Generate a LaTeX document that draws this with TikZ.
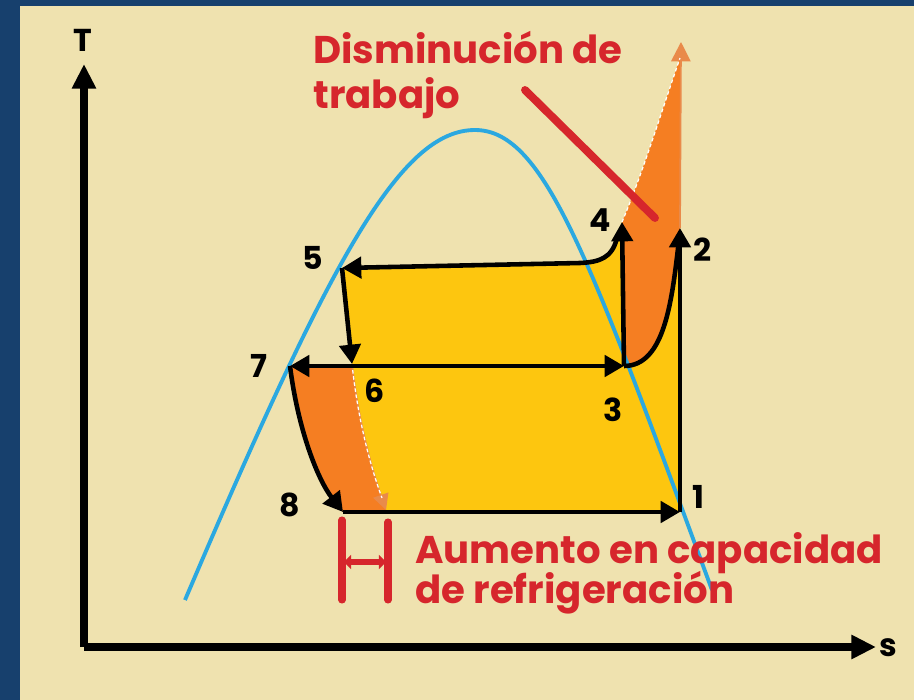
\documentclass[tikz,border=0pt]{standalone}
\usepackage{fontspec}
\setmainfont{Poppins}
\usetikzlibrary{arrows.meta}
\definecolor{frameblue}{HTML}{17406D}
\definecolor{paper}{HTML}{EFE2AF}
\definecolor{hotyel}{HTML}{FDC60F}
\definecolor{hotora}{HTML}{F57E22}
\definecolor{tipora}{HTML}{E98A4A}
\definecolor{domeblue}{HTML}{2BA8E0}
\definecolor{notered}{HTML}{D6262C}
\begin{document}
\begin{tikzpicture}[x=0.02cm,y=-0.02cm,>={Triangle[length=11pt,width=12pt]},
  flow/.style={line width=2.6pt,->},
  axis/.style={line width=4pt,-{Triangle[length=14pt,width=13pt]}},
  num/.style={font=\bfseries\fontsize{18}{18}\selectfont,inner sep=0pt},
  note/.style={text=notered,font=\bfseries\fontsize{22}{22}\selectfont,inner sep=0pt,anchor=base west}]
\fill[frameblue] (0,0) rectangle (914,700);
\fill[paper] (20,6) rectangle (914,700);
\useasboundingbox (0,0) rectangle (914,700);
\coordinate (o) at (84,647);\coordinate (ty) at (84,64);\coordinate (sx) at (876,647);
\coordinate (p1) at (680,512);\coordinate (p2) at (680,228);
\coordinate (p3) at (624,366);\coordinate (p4) at (622,222);
\coordinate (p5) at (342,268);\coordinate (p6) at (352,364);
\coordinate (p7) at (290,366);\coordinate (p8) at (343,512);
\coordinate (k4) at (617,238);\coordinate (k2) at (679,240);
\coordinate (ptop) at (681,42);\coordinate (pbot) at (386,510);
\fill[hotyel] (p5) -- (580,263) .. controls (605,262) and (617,250) .. (p4) -- (p3) -- (p6) -- cycle;
\fill[hotyel] (p6) -- (p3) .. controls (665,366) and (672,300) .. (p2) -- (p1) -- (p8) -- cycle;
\fill[hotora] (p7) .. controls (298,430) and (318,480) .. (p8) -- (pbot) .. controls (372,470) and (358,420) .. (p6) -- cycle;
\fill[hotora] (p4) -- (p3) .. controls (665,366) and (672,300) .. (p2) -- (680,58) .. controls (662,110) and (642,175) .. (p4) -- cycle;
\draw[tipora,line width=1pt,-{Triangle[length=11pt,width=11pt]}] (p2) -- (ptop);
\draw[white,line width=0.7pt,dash pattern=on 2pt off 1.5pt] (p4) .. controls (642,175) and (662,110) .. (680,58);
\draw[tipora,line width=1pt,-{Triangle[length=9pt,width=9pt]}] (p6) .. controls (358,420) and (372,470) .. (pbot);
\draw[white,line width=0.7pt,dash pattern=on 2pt off 1.5pt] (p6) .. controls (358,420) and (370,465) .. (382,498);
\draw[domeblue,line width=2.2pt] (185,600) .. controls (330,260) and (400,130) .. (475,130) .. controls (545,130) and (590,260) .. (712,590);
\draw[axis] (o) -- (ty);
\draw[axis] (o) -- (sx);
\draw[flow] (p1) -- (p2);
\draw[line width=2.6pt] (p3) .. controls (665,366) and (672,300) .. (k2);
\draw[flow] (p3) -- (p4);
\draw[flow] (k4) .. controls (612,258) and (600,262) .. (580,263) -- (p5);
\draw[flow] (p5) -- (p6);
\draw[flow,<->] (p7) -- (p3);
\draw[flow] (p7) .. controls (298,430) and (318,480) .. (p8);
\draw[flow] (p8) -- (p1);
\draw[notered,line width=4.5pt,line cap=round] (525,90) -- (655,218);
\draw[notered,line width=4pt,line cap=round] (342,520) -- (342,600) (388,522) -- (388,600);
\draw[notered,line width=3.5pt,{Triangle[length=4pt,width=8pt]}-{Triangle[length=4pt,width=8pt]}] (344,562) -- (386,562);
\node[num] (tlab) at (83,40) {T};
\node[num] (slab) at (888,648) {s};
\node[num] (n1) at (698,497) {1};
\node[num] (n2) at (703,250) {2};
\node[num] (n3) at (613,410) {3};
\node[num] (n4) at (600,220) {4};
\node[num] (n5) at (313,258) {5};
\node[num] (n6) at (375,391) {6};
\node[num] (n7) at (259,366) {7};
\node[num] (n8) at (290,505) {8};
\node[note] (dis1) at (313,63) {Disminución de};
\node[note] (dis2) at (313,108) {trabajo};
\node[note] (aum1) at (415,563) {Aumento en capacidad};
\node[note] (aum2) at (415,603) {de refrigeración};
\end{tikzpicture}
\end{document}
